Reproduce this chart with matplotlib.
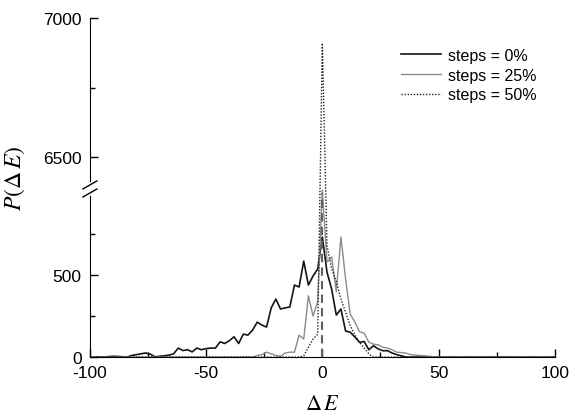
import numpy as np
import matplotlib
matplotlib.use("Agg")
import matplotlib.pyplot as plt
from matplotlib.lines import Line2D

plt.rcParams['font.family'] = ['Liberation Sans', 'DejaVu Sans']
plt.rcParams['mathtext.fontset'] = 'stix'
plt.rcParams['axes.unicode_minus'] = False

# energy bins
delta_e = np.arange(-100, 101, 2)

# steps = 0%
p_steps0 = [0, 0, 2, 0, 3, 5, 4, 2, 0, 10,
            15, 20, 25, 18, 2, 5, 8, 12, 20, 55,
            40, 45, 32, 55, 45, 52, 55, 55, 93, 83,
            100, 124, 83, 140, 134, 165, 213, 195, 183, 300,
            354, 293, 300, 305, 439, 427, 585, 439, 494, 537,
            732,
            518, 415, 256, 293, 159, 152, 122, 90, 95, 45,
            69, 50, 39, 39, 25, 15, 8, 0, 0, 0,
            0, 0, 0, 0, 0, 0, 0, 0, 0, 0,
            0, 0, 0, 0, 0, 0, 0, 0, 0, 0,
            0, 0, 0, 0, 0, 0, 0, 0, 0, 0]

# steps = 25%
p_steps25 = [0, 0, 0, 0, 0, 0, 0, 0, 0, 0,
             0, 0, 0, 0, 0, 0, 0, 0, 0, 0,
             0, 0, 0, 0, 0, 0, 0, 0, 0, 0,
             0, 0, 0, 0, 2, 0, 10, 15, 30, 20,
             10, 5, 25, 30, 30, 134, 110, 374, 250, 337,
             3000,
             579, 610, 398, 732, 476, 262, 213, 155, 146, 91,
             79, 75, 60, 55, 45, 30, 28, 24, 15, 12,
             10, 8, 5, 2, 0, 0, 0, 0, 0, 0,
             0, 0, 0, 0, 0, 0, 0, 0, 0, 0,
             0, 0, 0, 0, 0, 0, 0, 0, 0, 0]

# steps = 50%
p_steps50 = [0, 0, 0, 0, 0, 0, 0, 0, 0, 0,
             0, 0, 0, 0, 0, 0, 0, 0, 0, 0,
             0, 0, 0, 0, 0, 0, 0, 0, 0, 0,
             0, 0, 0, 0, 0, 0, 0, 0, 0, 0,
             0, 0, 0, 0, 0, 0, 8, 60, 110, 140,
             6910,
             679, 540, 460, 354, 274, 191, 135, 90, 55, 20,
             0, 0, 0, 0, 0, 0, 0, 0, 0, 0,
             0, 0, 0, 0, 0, 0, 0, 0, 0, 0,
             0, 0, 0, 0, 0, 0, 0, 0, 0, 0,
             0, 0, 0, 0, 0, 0, 0, 0, 0, 0]

labels = ['steps = 0%', 'steps = 25%', 'steps = 50%']

# broken y axis: 0..1000 and 6400..7000, squeezed gap in between
BREAK_LO, BREAK_HI = 1000, 6400
GAP = 49.0
RATIO = 1.695
knots_data = np.array([-1e6, BREAK_LO, BREAK_HI, 1e6])
knots_disp = np.array([-1e6, BREAK_LO, BREAK_LO + GAP,
                       BREAK_LO + GAP + (1e6 - BREAK_HI) * RATIO])


def fwd(y):
    return np.interp(y, knots_data, knots_disp)


def inv(y):
    return np.interp(y, knots_disp, knots_data)


fig = plt.figure(figsize=(5.69, 4.14), dpi=100)
ax = fig.add_axes([0.158, 0.135, 0.817, 0.819])
ax.set_yscale('function', functions=(fwd, inv))

ax.plot(delta_e, p_steps0, color='#151515', lw=1.2, label=labels[0])
ax.plot(delta_e, p_steps25, color='#8a8a8a', lw=1.0, label=labels[1])
ax.plot(delta_e, p_steps50, color='#222222', lw=1.0, ls=(0, (1, 1.2)), label=labels[2])
ax.vlines(0, 0, BREAK_LO, colors='#606060', lw=1.5, linestyles=(0, (4, 2.5)))

ax.set_xlim(-100, 100)
ax.set_ylim(0, 7000)
ax.set_xticks([-100, -50, 0, 50, 100])
ax.set_xticks([-75, -25, 25, 75], minor=True)
ax.set_yticks([0, 500, 6500, 7000])
ax.set_yticks([250, 750, 6750], minor=True)
ax.tick_params(which='both', direction='in', labelsize=12.5, width=1.0)
ax.tick_params(which='major', length=6)
ax.tick_params(which='minor', length=3.5)
ax.tick_params(axis='y', pad=6)
ax.tick_params(axis='x', pad=6)

for s in ['top', 'right']:
    ax.spines[s].set_visible(False)

# break marks on the y spine
trans = ax.get_yaxis_transform()
ax.add_line(Line2D([0, 0], [BREAK_LO, BREAK_HI], transform=trans,
                   color='white', lw=4, clip_on=False, zorder=5))
fig.canvas.draw()
x0 = ax.transAxes.transform((0, 0))[0]
for yval in [BREAK_LO, BREAK_HI]:
    yp = ax.transData.transform((0, yval))[1]
    fig.add_artist(Line2D([(x0 - 7) / fig.bbox.width, (x0 + 7) / fig.bbox.width],
                          [(yp - 4) / fig.bbox.height, (yp + 4) / fig.bbox.height],
                          transform=fig.transFigure, color='black', lw=1.0))

ax.set_xlabel(r'$\Delta\,E$', fontsize=16)
ax.set_ylabel(r'$P(\Delta\,E)$', fontsize=17)
ax.xaxis.set_label_coords(0.5, -0.106)
ax.yaxis.set_label_coords(-0.135, 0.531)

ax.legend(loc='upper right', bbox_to_anchor=(0.962, 0.912), frameon=False,
          fontsize=11.5, handlelength=2.5, handletextpad=0.45,
          labelspacing=0.3, borderpad=0, borderaxespad=0)

fig.savefig('out.png', dpi=100)
